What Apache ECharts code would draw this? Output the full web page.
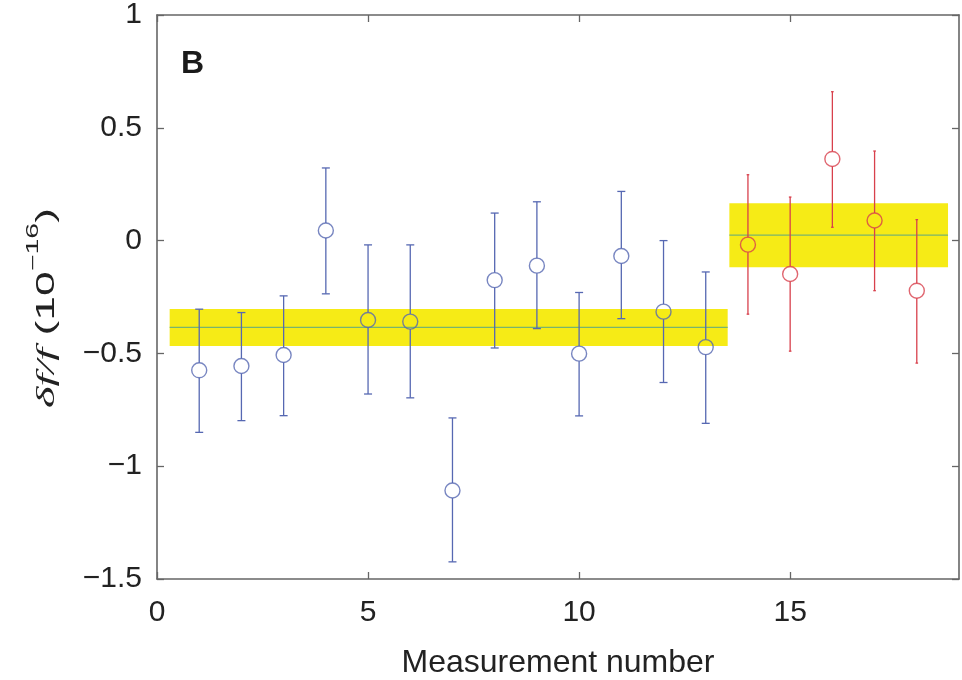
<!DOCTYPE html>
<html>
<head>
<meta charset="utf-8">
<script src="https://cdn.jsdelivr.net/npm/echarts@6/dist/echarts.min.js"></script>
<style>html,body{margin:0;padding:0;background:#fff;}#c{width:962px;height:680px;}</style>
</head>
<body>
<div id="c"></div>
<script>
// ---- data ----
var blueX = [1,2,3,4,5,6,7,8,9,10,11,12,13];
var blueY = [-0.575,-0.556,-0.507,0.045,-0.352,-0.359,-1.108,-0.175,-0.111,-0.501,-0.068,-0.315,-0.472];
var blueLow = [-0.85,-0.798,-0.776,-0.236,-0.68,-0.697,-1.424,-0.476,-0.39,-0.777,-0.346,-0.629,-0.81];
var blueHigh = [-0.304,-0.319,-0.245,0.322,-0.019,-0.019,-0.786,0.122,0.172,-0.23,0.218,0.0,-0.139];

var redX = [14,15,16,17,18];
var redY = [-0.018,-0.148,0.362,0.089,-0.222];
var redLow = [-0.326,-0.49,0.059,-0.222,-0.543];
var redHigh = [0.292,0.193,0.66,0.397,0.093];

// mean bands: start, end, mean, half-width
var bandStart = [0.3, 13.56];
var bandEnd = [13.52, 18.74];
var bandMean = [-0.385, 0.024];
var bandHalf = [0.082, 0.142];

var xTicks = [0,5,10,15];
var yMin = -1.5, yMax = 1, yStep = 0.5;
var xMin = 0, xMax = 19;

var panelLabel = 'B';
var xName = 'Measurement number';

// ---- build ----
var BLUE = '#5668b2', RED = '#d8404c', YELLOW = '#f6eb16', GREEN = '#78b46e', AXIS = '#666';
var FONT = 'Liberation Sans, Arial, Helvetica, sans-serif';

function errData(xs, ys, lo, hi){ return xs.map(function(x,i){ return [x, lo[i], hi[i], ys[i]]; }); }
function ptData(xs, ys){ return xs.map(function(x,i){ return [x, ys[i]]; }); }
var bandData = bandStart.map(function(s,i){ return [s, bandEnd[i], bandMean[i], bandHalf[i]]; });

function errRender(cap){
  return function(params, api){
    var x = api.value(0), lo = api.value(1), hi = api.value(2), m = api.value(3);
    var pLo = api.coord([x, lo]), pHi = api.coord([x, hi]), pM = api.coord([x, m]);
    var r = 7.5;
    var st = {stroke: api.visual('color'), lineWidth: 1.3};
    var ch = [
      {type:'line', shape:{x1:pHi[0], y1:pHi[1], x2:pM[0], y2:pM[1]-r}, style:st},
      {type:'line', shape:{x1:pM[0], y1:pM[1]+r, x2:pLo[0], y2:pLo[1]}, style:st},
      {type:'line', shape:{x1:pHi[0]-cap, y1:pHi[1], x2:pHi[0]+cap, y2:pHi[1]}, style:st},
      {type:'line', shape:{x1:pLo[0]-cap, y1:pLo[1], x2:pLo[0]+cap, y2:pLo[1]}, style:st}
    ];
    return {type:'group', children: ch};
  };
}

function bandRender(params, api){
  var s = api.value(0), e = api.value(1), m = api.value(2), h = api.value(3);
  var p1 = api.coord([s, m + h]), p2 = api.coord([e, m - h]);
  var l1 = api.coord([s, m]), l2 = api.coord([e, m]);
  return {type:'group', children:[
    {type:'rect', shape:{x:p1[0], y:p1[1], width:p2[0]-p1[0], height:p2[1]-p1[1]}, style:{fill:YELLOW}},
    {type:'line', shape:{x1:l1[0], y1:l1[1], x2:l2[0], y2:l2[1]}, style:{stroke:GREEN, lineWidth:1.3}}
  ]};
}

function fmtY(v){ return String(v).replace('-', '\u2212'); }

var tickLen = 7;
function axisLineStyle(){ return {show:true, onZero:false, lineStyle:{color:AXIS, width:1.6}}; }
function tickStyle(custom){
  var t = {show:true, inside:true, length:tickLen, lineStyle:{color:AXIS, width:1.3}};
  if (custom) t.customValues = custom;
  return t;
}

var chart = echarts.init(document.getElementById('c'), null, {renderer:'canvas'});
chart.setOption({
  backgroundColor:'#fff',
  animation:false,
  grid:{left:157, top:15, right:3, bottom:101, containLabel:false, outerBoundsMode:'none'},
  xAxis:[
    {type:'value', position:'bottom', min:xMin, max:xMax, interval:5,
     name:xName, nameLocation:'middle', nameGap:68,
     nameTextStyle:{fontFamily:FONT, fontSize:32, color:'#222'},
     axisLine:axisLineStyle(), axisTick:tickStyle(xTicks),
     axisLabel:{fontFamily:FONT, fontSize:30, color:'#222', margin:19, customValues:xTicks},
     splitLine:{show:false}},
    {type:'value', position:'top', min:xMin, max:xMax, interval:5,
     axisLine:axisLineStyle(), axisTick:tickStyle(xTicks),
     axisLabel:{show:false}, splitLine:{show:false}}
  ],
  yAxis:[
    {type:'value', position:'left', min:yMin, max:yMax, interval:yStep,
     axisLine:axisLineStyle(), axisTick:tickStyle(),
     axisLabel:{fontFamily:FONT, fontSize:30, color:'#222', margin:15, formatter:fmtY},
     splitLine:{show:false}},
    {type:'value', position:'right', min:yMin, max:yMax, interval:yStep,
     axisLine:axisLineStyle(), axisTick:tickStyle(),
     axisLabel:{show:false}, splitLine:{show:false}}
  ],
  graphic:[
    {type:'text', left:181, top:48, style:{text:panelLabel, fontFamily:FONT, fontSize:32, fontWeight:'bold', fill:'#1a1a1a'}},
    {type:'text', x:43, y:308, rotation:Math.PI/2, scaleX:1.78, scaleY:1, style:{
      text:'{a|\u03b4f/f}{b| (10}{c|\u221216}{b|)}',
      align:'center', verticalAlign:'middle',
      rich:{
        a:{fontFamily:'Liberation Serif, Times New Roman, serif', fontStyle:'italic', fontSize:26, fill:'#222', lineHeight:34, verticalAlign:'bottom'},
        b:{fontFamily:FONT, fontSize:25, fill:'#222', lineHeight:34, verticalAlign:'bottom'},
        c:{fontFamily:FONT, fontSize:16, fill:'#222', lineHeight:34, verticalAlign:'top'}
      }}}
  ],
  series:[
    {type:'custom', name:'bands', renderItem:bandRender, data:bandData, z:1, silent:true, clip:true},
    {type:'custom', name:'blueErr', renderItem:errRender(4), data:errData(blueX, blueY, blueLow, blueHigh), itemStyle:{color:BLUE}, z:3, silent:true},
    {type:'custom', name:'redErr', renderItem:errRender(1.3), data:errData(redX, redY, redLow, redHigh), itemStyle:{color:RED}, z:3, silent:true},
    {type:'scatter', name:'blue', data:ptData(blueX, blueY), symbol:'circle', symbolSize:15,
     itemStyle:{color:'rgba(0,0,0,0)', borderColor:BLUE, borderWidth:1.4}, z:4, silent:true},
    {type:'scatter', name:'red', data:ptData(redX, redY), symbol:'circle', symbolSize:15,
     itemStyle:{color:'rgba(0,0,0,0)', borderColor:RED, borderWidth:1.4}, z:4, silent:true}
  ]
});
</script>
</body>
</html>
